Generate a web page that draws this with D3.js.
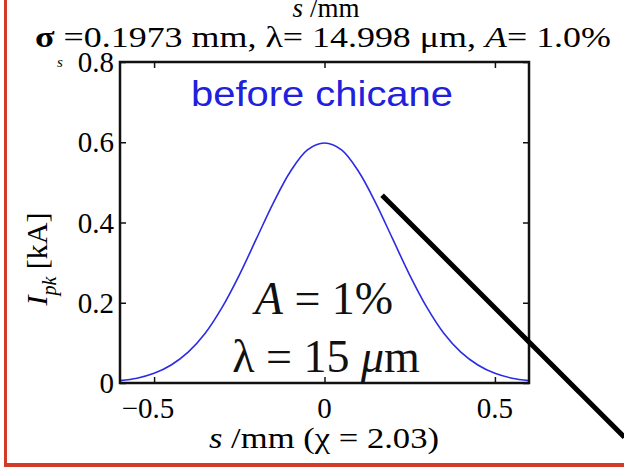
<!DOCTYPE html>
<html>
<head>
<meta charset="utf-8">
<script src="https://cdn.jsdelivr.net/npm/d3@7"></script>
<style>
  html, body { margin: 0; padding: 0; background: #ffffff; }
  svg { display: block; }
  text { font-family: "Liberation Serif", "Times New Roman", serif; }
</style>
</head>
<body>
<svg id="chart" width="624" height="475"></svg>
<script>
// Bunch current profile before the chicane: position s (mm) and peak current (kA)
const sValues = [-0.60, -0.55, -0.50, -0.45, -0.40, -0.35, -0.30, -0.25, -0.20, -0.15, -0.10, -0.05,
                  0.00,  0.05,  0.10,  0.15,  0.20,  0.25,  0.30,  0.35,  0.40,  0.45,  0.50,  0.55, 0.60];
const currentValues = [0.006, 0.012, 0.024, 0.045, 0.077, 0.124, 0.189, 0.269, 0.359, 0.449, 0.527, 0.581,
                       0.598, 0.581, 0.527, 0.449, 0.359, 0.269, 0.189, 0.124, 0.077, 0.045, 0.024, 0.012, 0.006];
const xTicks = [-0.5, 0, 0.5];
const yTicks = [0, 0.2, 0.4, 0.6, 0.8];
const xTickLabels = ["\u22120.5", "0", "0.5"];
const yTickLabels = ["0", "0.2", "0.4", "0.6", "0.8"];
// pointer line, in data units (s, kA)
const pointerFrom = [0.169, 0.468];
const pointerTo = [0.88, -0.135];

const svg = d3.select("#chart");
const plot = { left: 120, right: 529, top: 62, bottom: 383 };

const x = d3.scaleLinear().domain([-0.6, 0.6]).range([plot.left, plot.right]);
const y = d3.scaleLinear().domain([0, 0.8]).range([plot.bottom, plot.top]);

// red panel border (left and bottom)
svg.append("line").attr("x1", 5.5).attr("x2", 5.5).attr("y1", 0).attr("y2", 466)
  .attr("stroke", "#d23a2a").attr("stroke-width", 3);
svg.append("line").attr("x1", 4).attr("x2", 624).attr("y1", 465).attr("y2", 465)
  .attr("stroke", "#d23a2a").attr("stroke-width", 4);

// header lines
svg.append("text").attr("x", 326).attr("y", 17).attr("text-anchor", "middle")
  .attr("font-size", 27)
  .html('<tspan font-style="italic">s</tspan> /mm');
svg.append("text").attr("x", 35).attr("y", 47)
  .attr("font-size", 29)
  .attr("textLength", 576).attr("lengthAdjust", "spacingAndGlyphs")
  .html('<tspan font-weight="bold">\u03c3</tspan> =0.1973 mm, \u03bb= 14.998 \u03bcm, <tspan font-style="italic">A</tspan>=  1.0%');
svg.append("text").attr("x", 57).attr("y", 67).attr("font-size", 15).attr("font-style", "italic").text("s");

// curve
const line = d3.line()
  .x((d, i) => x(sValues[i]))
  .y(d => y(d))
  .curve(d3.curveCatmullRom);
svg.append("path").datum(currentValues)
  .attr("d", line)
  .attr("fill", "none")
  .attr("stroke", "#2b2be6")
  .attr("stroke-width", 1.6);

// axes with inward ticks on all sides
const tickLen = 6;
svg.append("g").attr("transform", `translate(0,${plot.bottom})`)
  .call(d3.axisTop(x).tickValues(xTicks).tickSize(tickLen).tickFormat(""))
  .call(g => g.select(".domain").remove());
svg.append("g").attr("transform", `translate(0,${plot.top})`)
  .call(d3.axisBottom(x).tickValues(xTicks).tickSize(tickLen).tickFormat(""))
  .call(g => g.select(".domain").remove());
svg.append("g").attr("transform", `translate(${plot.left},0)`)
  .call(d3.axisRight(y).tickValues(yTicks).tickSize(tickLen).tickFormat(""))
  .call(g => g.select(".domain").remove());
svg.append("g").attr("transform", `translate(${plot.right},0)`)
  .call(d3.axisLeft(y).tickValues(yTicks).tickSize(tickLen).tickFormat(""))
  .call(g => g.select(".domain").remove());
svg.selectAll(".tick line").attr("stroke", "#111").attr("stroke-width", 1.5);

// frame
svg.append("rect")
  .attr("x", plot.left).attr("y", plot.top)
  .attr("width", plot.right - plot.left).attr("height", plot.bottom - plot.top)
  .attr("fill", "none").attr("stroke", "#111").attr("stroke-width", 2.5);

// tick labels
svg.selectAll(".xlab").data(xTicks).join("text")
  .attr("x", d => x(d) - (d < 0 ? 6 : 0)).attr("y", 418)
  .attr("text-anchor", "middle").attr("font-size", 29)
  .text((d, i) => xTickLabels[i]);
svg.selectAll(".ylab").data(yTicks).join("text")
  .attr("x", 114).attr("y", d => y(d) + 10)
  .attr("text-anchor", "end").attr("font-size", 29)
  .text((d, i) => yTickLabels[i]);

// axis titles
svg.append("text").attr("x", 324).attr("y", 448).attr("text-anchor", "middle")
  .attr("font-size", 30)
  .attr("textLength", 230).attr("lengthAdjust", "spacingAndGlyphs")
  .html('<tspan font-style="italic">s</tspan> /mm (\u03c7 = 2.03)');
svg.append("text")
  .attr("transform", "translate(47,259) rotate(-90)")
  .attr("text-anchor", "middle").attr("font-size", 30)
  .html('<tspan font-style="italic">I</tspan><tspan font-style="italic" font-size="20" dy="9">pk</tspan><tspan dy="-9"> [kA]</tspan>');

// in-plot annotations
svg.append("text").attr("x", 322).attr("y", 106).attr("text-anchor", "middle")
  .style("font-family", "'Liberation Sans', Arial, sans-serif")
  .attr("font-size", 35).attr("fill", "#2020dd")
  .attr("textLength", 262).attr("lengthAdjust", "spacingAndGlyphs")
  .text("before chicane");
svg.append("text").attr("x", 324).attr("y", 314).attr("text-anchor", "middle")
  .attr("font-size", 46).attr("fill", "#111")
  .html('<tspan font-style="italic">A</tspan> = 1%');
svg.append("text").attr("x", 326).attr("y", 372).attr("text-anchor", "middle")
  .attr("font-size", 46).attr("fill", "#111")
  .html('\u03bb = 15 <tspan font-style="italic">\u03bc</tspan>m');

// pointer
svg.append("line")
  .attr("x1", x(pointerFrom[0])).attr("y1", y(pointerFrom[1]))
  .attr("x2", x(pointerTo[0])).attr("y2", y(pointerTo[1]))
  .attr("stroke", "#000").attr("stroke-width", 5);
</script>
</body>
</html>
